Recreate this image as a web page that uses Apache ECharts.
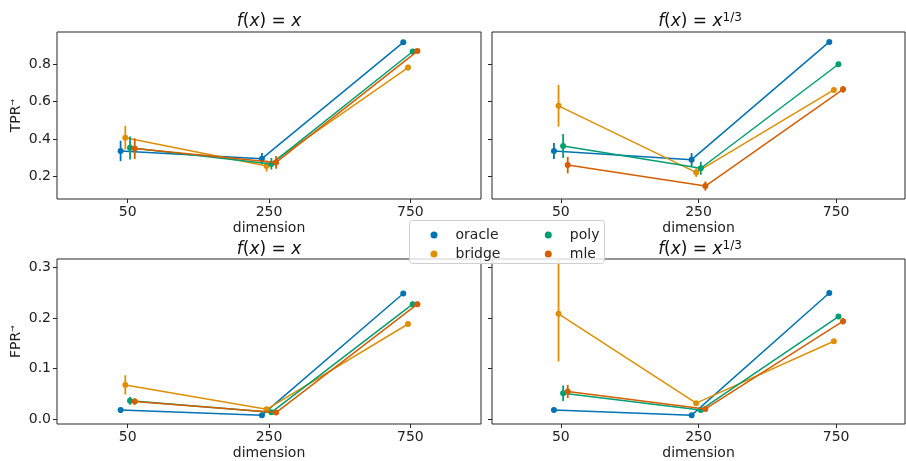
<!DOCTYPE html>
<html>
<head>
<meta charset="utf-8">
<script src="https://cdn.jsdelivr.net/npm/echarts@6/dist/echarts.min.js"></script>
<style>
html,body{margin:0;padding:0;background:#fff;}
#main{width:906px;height:461px;}
</style>
</head>
<body>
<div id="main"></div>
<script>
// tick labels and methods
var dims = ['50', '250', '750'];
var methods = ['oracle', 'bridge', 'poly', 'mle'];
var colors = ['#0173b2', '#de8f05', '#029e73', '#d55e00'];

// TPR, f(x)=x   rows: oracle, bridge, poly, mle
var tprLinMean = [[0.337, 0.296, 0.917], [0.408, 0.257, 0.782], [0.355, 0.268, 0.868], [0.350, 0.276, 0.870]];
var tprLinLo   = [[0.283, 0.266, 0.910], [0.345, 0.227, 0.767], [0.292, 0.238, 0.860], [0.295, 0.243, 0.862]];
var tprLinHi   = [[0.392, 0.326, 0.924], [0.471, 0.287, 0.797], [0.414, 0.300, 0.876], [0.405, 0.311, 0.878]];

// TPR, f(x)=x^(1/3)
var tprCubMean = [[0.337, 0.291, 0.919], [0.578, 0.223, 0.663], [0.364, 0.245, 0.800], [0.262, 0.150, 0.666]];
var tprCubLo   = [[0.294, 0.256, 0.913], [0.467, 0.198, 0.648], [0.300, 0.210, 0.792], [0.218, 0.125, 0.648]];
var tprCubHi   = [[0.380, 0.326, 0.925], [0.690, 0.248, 0.678], [0.428, 0.280, 0.808], [0.306, 0.175, 0.684]];

// FPR, f(x)=x
var fprLinMean = [[0.0187, 0.0084, 0.248], [0.068, 0.020, 0.188], [0.0368, 0.014, 0.227], [0.0355, 0.0135, 0.227]];
var fprLinLo   = [[0.013, 0.006, 0.243], [0.049, 0.018, 0.184], [0.029, 0.012, 0.222], [0.029, 0.011, 0.222]];
var fprLinHi   = [[0.024, 0.011, 0.253], [0.087, 0.022, 0.192], [0.044, 0.016, 0.232], [0.042, 0.016, 0.232]];

// FPR, f(x)=x^(1/3)
var fprCubMean = [[0.0187, 0.0084, 0.249], [0.208, 0.032, 0.154], [0.0516, 0.0187, 0.2026], [0.055, 0.0206, 0.1935]];
var fprCubLo   = [[0.014, 0.006, 0.244], [0.114, 0.030, 0.151], [0.036, 0.016, 0.198], [0.042, 0.018, 0.187]];
var fprCubHi   = [[0.023, 0.011, 0.254], [0.320, 0.034, 0.157], [0.067, 0.021, 0.207], [0.068, 0.023, 0.200]];

var dodge = [-0.05, -0.0167, 0.0167, 0.05];
var FONT = 'DejaVu Sans';

var myChart = echarts.init(document.getElementById('main'));

var panels = [
    {mean: tprLinMean, lo: tprLinLo, hi: tprLinHi},
    {mean: tprCubMean, lo: tprCubLo, hi: tprCubHi},
    {mean: fprLinMean, lo: fprLinLo, hi: fprLinHi},
    {mean: fprCubMean, lo: fprCubLo, hi: fprCubHi}
];

var grids = [
    {left: 57, width: 424, top: 32, height: 167},
    {left: 492, width: 413, top: 32, height: 167},
    {left: 57, width: 424, top: 259, height: 168},
    {left: 492, width: 413, top: 259, height: 168}
];
grids.forEach(function (g) {
    g.show = true;
    g.borderColor = '#262626';
    g.borderWidth = 1;
    g.backgroundColor = 'transparent';
});

var xAxes = grids.map(function (g, i) {
    return {
        type: 'value', gridIndex: i, min: -0.5, max: 2.5,
        name: 'dimension', nameLocation: 'middle', nameGap: 22,
        nameTextStyle: {fontFamily: FONT, fontSize: 14, color: '#222'},
        axisLine: {show: false, onZero: false},
        splitLine: {show: false},
        axisTick: {show: true, customValues: [0, 1, 2], length: 4, lineStyle: {color: '#262626'}},
        axisLabel: {
            customValues: [0, 1, 2], fontFamily: FONT, fontSize: 14, color: '#222', margin: 6,
            formatter: function (v) { return dims[Math.round(v)]; }
        }
    };
});

function yAxis(i, min, max, ticks, name) {
    return {
        type: 'value', gridIndex: i, min: min, max: max,
        name: name, nameLocation: 'middle', nameGap: 34, nameRotate: 90,
        nameTextStyle: {
            fontFamily: FONT, fontSize: 14, color: '#222',
            rich: {s: {fontFamily: FONT, fontSize: 8, color: '#222', verticalAlign: 'top', lineHeight: 14}}
        },
        axisLine: {show: false, onZero: false},
        splitLine: {show: false},
        axisTick: {show: true, customValues: ticks, length: 4, lineStyle: {color: '#262626'}},
        axisLabel: {
            show: i % 2 === 0, customValues: ticks, fontFamily: FONT, fontSize: 14, color: '#222', margin: 6,
            formatter: function (v) { return v.toFixed(1); }
        }
    };
}

var yAxes = [
    yAxis(0, 0.081, 0.972, [0.2, 0.4, 0.6, 0.8], 'TPR{s|→}'),
    yAxis(1, 0.081, 0.972, [0.2, 0.4, 0.6, 0.8], ''),
    yAxis(2, -0.009, 0.316, [0.0, 0.1, 0.2, 0.3], 'FPR{s|→}'),
    yAxis(3, -0.009, 0.316, [0.0, 0.1, 0.2, 0.3], '')
];

function errItem(params, api) {
    var x = api.value(0);
    var p1 = api.coord([x, api.value(1)]);
    var p2 = api.coord([x, api.value(2)]);
    var cs = params.coordSys;
    var yBot = Math.min(p1[1], cs.y + cs.height);
    var yTop = Math.max(p2[1], cs.y);
    return {
        type: 'line',
        shape: {x1: p1[0], y1: yBot, x2: p1[0], y2: yTop},
        style: {stroke: api.visual('color'), lineWidth: 1.8}
    };
}

var series = [];
panels.forEach(function (p, gi) {
    methods.forEach(function (m, k) {
        var pts = [], bars = [];
        for (var j = 0; j < dims.length; j++) {
            pts.push([j + dodge[k], p.mean[k][j]]);
            bars.push([j + dodge[k], p.lo[k][j], p.hi[k][j]]);
        }
        series.push({
            name: m, type: 'line', xAxisIndex: gi, yAxisIndex: gi,
            data: pts, symbol: 'circle', symbolSize: 6, showSymbol: true,
            itemStyle: {color: colors[k]}, lineStyle: {color: colors[k], width: 1.5},
            z: 3 + k
        });
        series.push({
            name: m, type: 'custom', xAxisIndex: gi, yAxisIndex: gi,
            data: bars, renderItem: errItem, encode: {x: 0, y: [1, 2]},
            itemStyle: {color: colors[k]}, z: 3 + k
        });
    });
});

function titleText(x, y, cube) {
    var txt = cube ? '{i|f}({i|x}) = {i|x}{s|1/3}' : '{i|f}({i|x}) = {i|x}';
    return {
        type: 'text', x: x, y: y, z: 5,
        style: {
            text: txt, fontFamily: FONT, fontSize: 17, fill: '#111',
            align: 'center', verticalAlign: 'middle',
            rich: {
                i: {fontFamily: FONT, fontSize: 17, fontStyle: 'italic', fill: '#111', lineHeight: 20},
                s: {fontFamily: FONT, fontSize: 12, fill: '#111', verticalAlign: 'top', lineHeight: 20}
            }
        }
    };
}

var legendBase = {
    orient: 'vertical', icon: 'circle', itemWidth: 7, itemHeight: 7, itemGap: 5,
    selectedMode: false, z: 110,
    textStyle: {fontFamily: FONT, fontSize: 14, color: '#222', padding: [0, 0, 0, 13]}
};

var option = {
    animation: false,
    backgroundColor: '#fff',
    color: colors,
    grid: grids,
    xAxis: xAxes,
    yAxis: yAxes,
    legend: [
        Object.assign({}, legendBase, {data: ['oracle', 'bridge'], left: 425.5, top: 223}),
        Object.assign({}, legendBase, {data: ['poly', 'mle'], left: 539.8, top: 223})
    ],
    graphic: [
        titleText(269, 22, false),
        titleText(700, 22, true),
        titleText(269, 250, false),
        titleText(700, 250, true),
        {
            type: 'rect', z: 100,
            shape: {x: 409.5, y: 220.5, width: 195, height: 43, r: 3},
            style: {fill: 'rgba(255,255,255,0.8)', stroke: '#d0d0d0', lineWidth: 1}
        }
    ],
    series: series
};

myChart.setOption(option);
</script>
</body>
</html>
